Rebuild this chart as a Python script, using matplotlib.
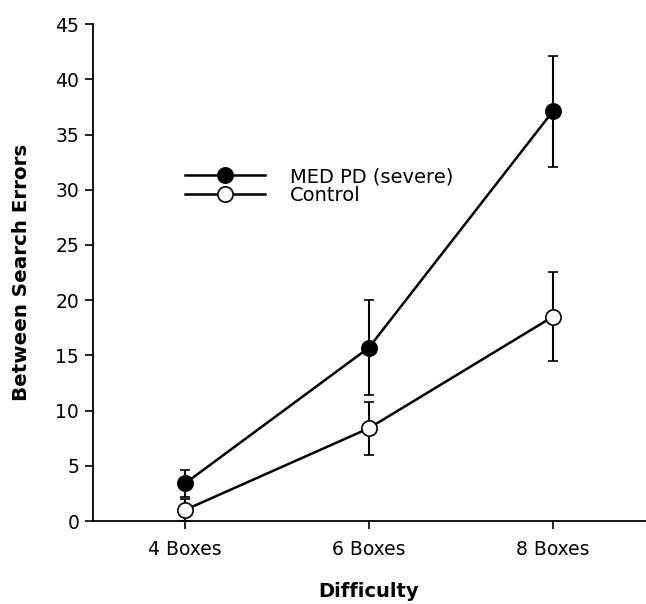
import matplotlib
matplotlib.use("Agg")
import matplotlib.pyplot as plt
from matplotlib.lines import Line2D

categories = ["4 Boxes", "6 Boxes", "8 Boxes"]
pd_severe = [3.4, 15.7, 37.1]
pd_severe_err = [1.2, 4.3, 5.05]
control = [1.0, 8.4, 18.5]
control_err = [1.0, 2.4, 4.05]
y_ticks = [0, 5, 10, 15, 20, 25, 30, 35, 40, 45]
labels = ["MED PD (severe)", "Control"]

plt.rcParams['font.family'] = ['DejaVu Sans']
fig = plt.figure(figsize=(6.46, 6.04), dpi=100)
ax = fig.add_axes([0.144, 0.1374, 0.854, 0.8226])

x = list(range(len(categories)))
common = dict(color='black', lw=1.8, marker='o', ms=11, mec='black', mew=1.2,
              capsize=3.5, elinewidth=1.5, capthick=1.5, zorder=3)
ax.errorbar(x, pd_severe, yerr=pd_severe_err, mfc='black', **common)
ax.errorbar(x, control, yerr=control_err, mfc='white', **common)

ax.set_xlim(-0.5, 2.5)
ax.set_ylim(0, 45)
ax.set_yticks(y_ticks)
ax.set_xticks(x)
ax.set_xticklabels(categories)
ax.spines['top'].set_visible(False)
ax.spines['right'].set_visible(False)
ax.spines['left'].set_linewidth(1.3)
ax.spines['bottom'].set_linewidth(1.3)
ax.tick_params(axis='both', direction='out', length=6, width=1.2, labelsize=13.5)
ax.tick_params(axis='y', pad=4)
ax.tick_params(axis='x', pad=8)

ax.set_ylabel('Between Search Errors', fontsize=14.3, fontweight='bold')
ax.yaxis.set_label_coords(-0.112, 0.5)
ax.set_xlabel('Difficulty', fontsize=14, fontweight='bold', labelpad=16)

handles = [Line2D([], [], color='black', lw=1.8, marker='o', ms=11, mfc='black', mec='black', mew=1.2),
           Line2D([], [], color='black', lw=1.8, marker='o', ms=11, mfc='white', mec='black', mew=1.2)]
ax.legend(handles, labels, loc='upper left', bbox_to_anchor=(0.1667, 0.712), frameon=False,
          fontsize=14, handlelength=4.12, handletextpad=1.29,
          labelspacing=0.0, borderaxespad=0, borderpad=0)

fig.savefig('out.png', dpi=100)
